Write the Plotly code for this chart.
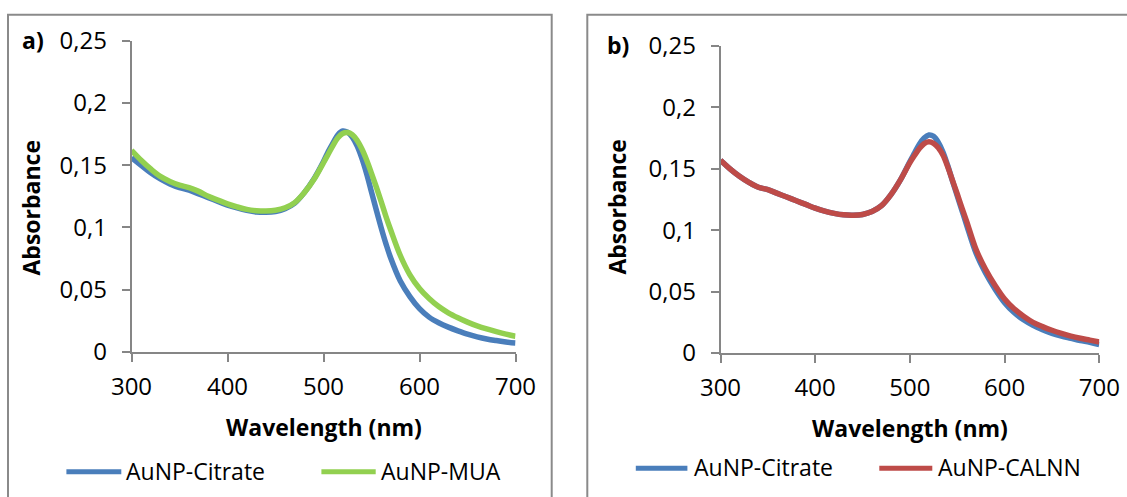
import plotly.graph_objects as go

W, H = 1127, 497

# ---------------- data ----------------
wl_a = [300, 310, 320, 330, 340, 350, 360, 370, 380, 390, 400, 410, 420, 430, 440, 450, 460, 470, 480, 490,
        500, 505, 510, 515, 520, 525, 530, 535, 540, 545, 550, 555, 560, 565, 570, 580, 590, 600, 610, 620,
        630, 640, 650, 660, 670, 680, 690, 700]
citrate_a = [0.156, 0.150, 0.144, 0.139, 0.135, 0.132, 0.130, 0.127, 0.124, 0.121, 0.118, 0.1157, 0.1138, 0.1125,
             0.1122, 0.1128, 0.1150, 0.1195, 0.128, 0.139, 0.153, 0.161, 0.168, 0.1745, 0.1775, 0.1765, 0.1725,
             0.1655, 0.1555, 0.143, 0.1285, 0.114, 0.100, 0.087, 0.0755, 0.057, 0.0445, 0.0348, 0.028, 0.0235,
             0.020, 0.017, 0.0143, 0.0122, 0.0105, 0.0092, 0.0081, 0.0072]
mua_a = [0.162, 0.154, 0.147, 0.141, 0.137, 0.134, 0.132, 0.129, 0.125, 0.122, 0.119, 0.1165, 0.1145, 0.1135,
         0.1132, 0.1138, 0.1158, 0.120, 0.128, 0.1385, 0.152, 0.159, 0.166, 0.172, 0.1755, 0.1762, 0.1745,
         0.170, 0.163, 0.154, 0.1435, 0.1325, 0.121, 0.109, 0.098, 0.0775, 0.062, 0.051, 0.043, 0.0365,
         0.0315, 0.0275, 0.024, 0.021, 0.0185, 0.0163, 0.0143, 0.0127]

wl_b = [300, 310, 320, 330, 340, 350, 360, 370, 380, 390, 400, 410, 420, 430, 440, 450, 460, 470, 480, 490,
        500, 505, 510, 515, 520, 525, 530, 535, 540, 545, 550, 555, 560, 570, 580, 590, 600, 610, 620,
        630, 640, 650, 660, 670, 680, 690, 700]
citrate_b = [0.157, 0.150, 0.144, 0.139, 0.135, 0.133, 0.130, 0.127, 0.124, 0.121, 0.118, 0.1155, 0.1137, 0.1125,
             0.1122, 0.1128, 0.1152, 0.120, 0.129, 0.141, 0.156, 0.163, 0.170, 0.175, 0.1775, 0.1765, 0.1715,
             0.1635, 0.1525, 0.140, 0.128, 0.116, 0.104, 0.081, 0.065, 0.052, 0.041, 0.033, 0.027,
             0.0225, 0.019, 0.016, 0.0138, 0.012, 0.0102, 0.0088, 0.0068]
calnn_b = [0.157, 0.150, 0.144, 0.139, 0.135, 0.133, 0.130, 0.127, 0.124, 0.121, 0.118, 0.1155, 0.1137, 0.1125,
           0.1122, 0.1128, 0.1152, 0.120, 0.129, 0.141, 0.155, 0.161, 0.1665, 0.1705, 0.172, 0.1708, 0.1672,
           0.161, 0.1515, 0.1405, 0.1295, 0.118, 0.107, 0.084, 0.068, 0.055, 0.044, 0.036, 0.030,
           0.025, 0.0215, 0.0185, 0.016, 0.0138, 0.012, 0.0105, 0.009]

x_ticks = [300, 400, 500, 600, 700]
x_tick_labels = ["300", "400", "500", "600", "700"]
y_ticks = [0, 0.05, 0.1, 0.15, 0.2, 0.25]
y_tick_labels = ["0", "0,05", "0,1", "0,15", "0,2", "0,25"]

series_a = ["AuNP-Citrate", "AuNP-MUA"]
series_b = ["AuNP-Citrate", "AuNP-CALNN"]
BLUE, GREEN, RED = "#4A7EBB", "#92D050", "#BE4B48"
AXC = "#868686"
FONT = "Open Sans"
LW = 5.5

fig = go.Figure()
fig.add_trace(go.Scatter(x=wl_a, y=citrate_a, mode="lines", line=dict(color=BLUE, width=LW, shape="spline"),
                         xaxis="x", yaxis="y", name=series_a[0]))
fig.add_trace(go.Scatter(x=wl_a, y=mua_a, mode="lines", line=dict(color=GREEN, width=LW, shape="spline"),
                         xaxis="x", yaxis="y", name=series_a[1]))
fig.add_trace(go.Scatter(x=wl_b, y=citrate_b, mode="lines", line=dict(color=BLUE, width=LW, shape="spline"),
                         xaxis="x2", yaxis="y2", name=series_b[0]))
fig.add_trace(go.Scatter(x=wl_b, y=calnn_b, mode="lines", line=dict(color=RED, width=LW, shape="spline"),
                         xaxis="x2", yaxis="y2", name=series_b[1]))


def px(x):
    return x / W


def py(y):
    return 1 - y / H


ax_common = dict(showline=True, linecolor=AXC, linewidth=1.5, ticks="outside", ticklen=8, tickwidth=1.5,
                 tickcolor=AXC, showgrid=False, zeroline=False, fixedrange=True, automargin=False,
                 tickfont=dict(family=FONT, size=24, color="#000000"))
x_common = dict(range=[300, 700], tickvals=x_ticks, ticktext=x_tick_labels, ticklabelstandoff=4, **ax_common)
y_common = dict(range=[0, 0.25], tickvals=y_ticks, ticktext=y_tick_labels, ticklabelstandoff=10, **ax_common)

fig.update_layout(
    width=W, height=H, margin=dict(l=0, r=0, t=0, b=0, pad=0, autoexpand=False),
    paper_bgcolor="white", plot_bgcolor="white",
    showlegend=False, separators=", ",
    xaxis=dict(domain=[px(131.5), px(515.5)], anchor="y", **x_common),
    yaxis=dict(domain=[py(352), py(40.7)], anchor="x", **y_common),
    xaxis2=dict(domain=[px(720.5), px(1099.3)], anchor="y2", **x_common),
    yaxis2=dict(domain=[py(353), py(46)], anchor="x2", **y_common),
)

shapes = [
    dict(type="rect", xref="paper", yref="paper", x0=px(8), x1=px(551.7), y0=py(14.7), y1=py(510),
         line=dict(color="#8A8A8A", width=2), fillcolor="rgba(0,0,0,0)", layer="below"),
    dict(type="rect", xref="paper", yref="paper", x0=px(587.3), x1=px(1140), y0=py(14.7), y1=py(510),
         line=dict(color="#8A8A8A", width=2), fillcolor="rgba(0,0,0,0)", layer="below"),
]

annotations = []


def text(x, y, s, size=23, bold=False, angle=0, xanchor="center"):
    annotations.append(dict(xref="paper", yref="paper", x=px(x), y=py(y), text=("<b>%s</b>" % s) if bold else s,
                            showarrow=False, xanchor=xanchor, yanchor="middle", textangle=angle,
                            font=dict(family=FONT, size=size, color="#000000")))


text(32.7, 40, "a)", bold=True)
text(618, 45, "b)", bold=True)
text(324, 427, "Wavelength (nm)", bold=True)
text(910, 428, "Wavelength (nm)", bold=True)
text(30.5, 208, "Absorbance", bold=True, angle=-90)
text(616.6, 207, "Absorbance", bold=True, angle=-90)

# legends
legend_items = [
    (66.4, 121.3, 471.7, BLUE, series_a[0], 124),
    (321.4, 375.7, 471.7, GREEN, series_a[1], 379),
    (635.8, 687.4, 468.3, BLUE, series_b[0], 692),
    (879.3, 932.3, 468.3, RED, series_b[1], 936),
]
for x0, x1, y, c, name, tx in legend_items:
    shapes.append(dict(type="line", xref="paper", yref="paper", x0=px(x0), x1=px(x1), y0=py(y), y1=py(y),
                       line=dict(color=c, width=5)))
    text(tx, y - 1, name, size=23, xanchor="left")

fig.update_layout(shapes=shapes, annotations=annotations)
fig.write_html("out.html")
